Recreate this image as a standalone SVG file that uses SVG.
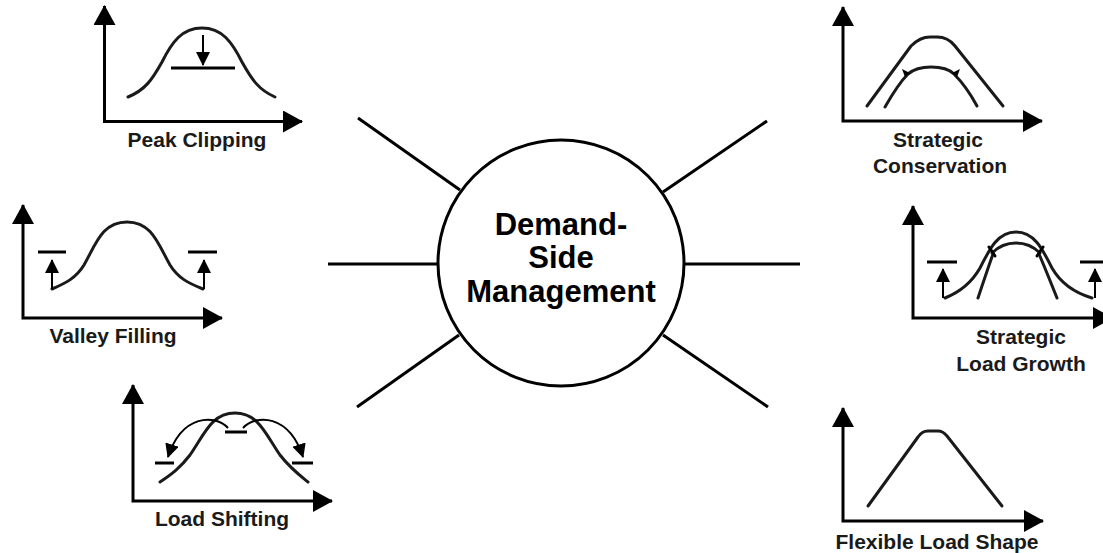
<svg xmlns="http://www.w3.org/2000/svg" width="1103" height="553" viewBox="0 0 1103 553">
<style>
.ln{fill:none;stroke:#000;stroke-width:3;stroke-linecap:round;stroke-linejoin:round}
.ax{fill:none;stroke:#000;stroke-width:3;stroke-linejoin:miter;marker-start:url(#ah);marker-end:url(#ah)}
.cv{fill:none;stroke:#1a1a1a;stroke-width:3;stroke-linecap:round;stroke-linejoin:round}
.lvl{fill:none;stroke:#000;stroke-width:3}
.sa{fill:none;stroke:#000;stroke-width:2;marker-end:url(#sh)}
.con{stroke:#000;stroke-width:3;fill:none}
.lbl{font-family:"Liberation Sans",Arial,Helvetica,sans-serif;font-weight:bold;font-size:21px;fill:#1a1a1a;text-anchor:middle}
.ctr{font-family:"Liberation Sans",Arial,Helvetica,sans-serif;font-weight:bold;font-size:31px;fill:#000;text-anchor:middle}
</style>
<defs>
<marker id="ah" markerUnits="userSpaceOnUse" markerWidth="22" markerHeight="24" refX="19" refY="11" orient="auto-start-reverse" viewBox="0 0 22 24">
<path d="M0,0 L20,11 L0,22 z" fill="#000"/>
</marker>
<marker id="sh" markerUnits="userSpaceOnUse" markerWidth="14" markerHeight="16" refX="13" refY="7" orient="auto" viewBox="0 0 14 16">
<path d="M0,0 L14,7 L0,14 z" fill="#000"/>
</marker>
</defs>
<rect width="1103" height="553" fill="#fff"/>

<g id="connectors">
<line class="con" x1="358" y1="118" x2="460" y2="190"/>
<line class="con" x1="328" y1="264" x2="438" y2="264"/>
<line class="con" x1="357" y1="407" x2="459" y2="335"/>
<line class="con" x1="767" y1="121" x2="663" y2="192"/>
<line class="con" x1="684" y1="264" x2="800" y2="264"/>
<line class="con" x1="663" y1="335" x2="768" y2="407"/>
</g>

<g id="center">
<circle cx="561" cy="263" r="123" fill="#fff" stroke="#000" stroke-width="3"/>
<text class="ctr" x="561" y="235">Demand-</text>
<text class="ctr" x="561" y="268">Side</text>
<text class="ctr" x="561" y="302">Management</text>
</g>

<g id="peak-clipping">
<path class="ax" d="M104.5,6 L104.5,121.5 L302,121.5"/>
<path class="cv" d="M128,97 C145,90 152,80 162,62 C172,42 182,28 202,28 C222,28 232,42 242,62 C252,80 259,90 275,97"/>
<line class="lvl" x1="171" y1="68" x2="235" y2="68"/>
<line class="sa" x1="203" y1="35" x2="203" y2="65"/>
<text class="lbl" x="197" y="147">Peak Clipping</text>
</g>

<g id="valley-filling">
<path class="ax" d="M23,205 L23,318 L222,318"/>
<path class="cv" d="M52,289 C66,283 76,278 84,265 C96,244 102,222 127,222 C152,222 158,244 170,265 C178,278 188,283 203,289"/>
<line class="lvl" x1="38" y1="252" x2="66" y2="252"/>
<line class="lvl" x1="188" y1="252" x2="217" y2="252"/>
<line class="sa" x1="52" y1="289" x2="52" y2="260"/>
<line class="sa" x1="204" y1="289" x2="204" y2="260"/>
<text class="lbl" x="113" y="343">Valley Filling</text>
</g>

<g id="load-shifting">
<path class="ax" d="M133,385 L133,501 L332,501"/>
<path class="cv" stroke-width="3.5" d="M160,482 C172,474 180,468 190,455 C205,433 212,413 235,413 C258,413 265,433 280,455 C290,468 298,474 308,482"/>
<line class="lvl" x1="225" y1="432" x2="247" y2="432"/>
<line class="lvl" x1="155" y1="463" x2="174" y2="463"/>
<line class="lvl" x1="292" y1="463" x2="313" y2="463"/>
<path class="sa" d="M228,428 C215,414 182,414 168,457"/>
<path class="sa" d="M243,428 C256,414 289,414 303,457"/>
<text class="lbl" x="222" y="526">Load Shifting</text>
</g>

<g id="strategic-conservation">
<path class="ax" d="M843,7 L843,121 L1042,121"/>
<path class="cv" d="M867,106 L911,46 Q920,37 930,37 L937,37 Q948,37 955,46 L1003,106"/>
<path class="cv" d="M885,107 C893,93 900,82 908,74 C915,68 923,67 931,67 C940,67 948,68 954,74 C962,82 970,93 977,106"/>
<polygon points="902,69 910,73 905,77" fill="#000"/>
<polygon points="960,69 952,73 957,77" fill="#000"/>
<text class="lbl" x="938" y="147">Strategic</text>
<text class="lbl" x="940" y="173">Conservation</text>
</g>

<g id="strategic-load-growth">
<path class="ax" d="M913,206 L913,318 L1112,318"/>
<path class="cv" d="M945,298 C960,292 972,282 980,268 C990,248 998,232 1016,232 C1034,232 1042,248 1052,268 C1060,282 1072,292 1092,298"/>
<path class="cv" d="M992,253 C999,246 1006,243 1016,243 C1026,243 1033,246 1040,253"/>
<path class="cv" d="M993,254 C988,268 983,283 978,298"/>
<path class="cv" d="M1039,254 C1045,268 1051,283 1057,298"/>
<line class="ln" x1="989" y1="247" x2="995" y2="256"/>
<line class="ln" x1="1043" y1="247" x2="1037" y2="256"/>
<line class="lvl" x1="927" y1="262" x2="957" y2="262"/>
<line class="lvl" x1="1080" y1="262" x2="1103" y2="262"/>
<line class="sa" x1="943" y1="298" x2="943" y2="269"/>
<line class="sa" x1="1095" y1="298" x2="1095" y2="269"/>
<text class="lbl" x="1021" y="344">Strategic</text>
<text class="lbl" x="1021" y="371">Load Growth</text>
</g>

<g id="flexible-load-shape">
<path class="ax" d="M843,408 L843,521 L1043,521"/>
<path class="cv" d="M868,506 L918,437 Q922,431 928,431 L938,431 Q943,431 947,436 L1002,506"/>
<text class="lbl" x="937" y="549">Flexible Load Shape</text>
</g>
</svg>
